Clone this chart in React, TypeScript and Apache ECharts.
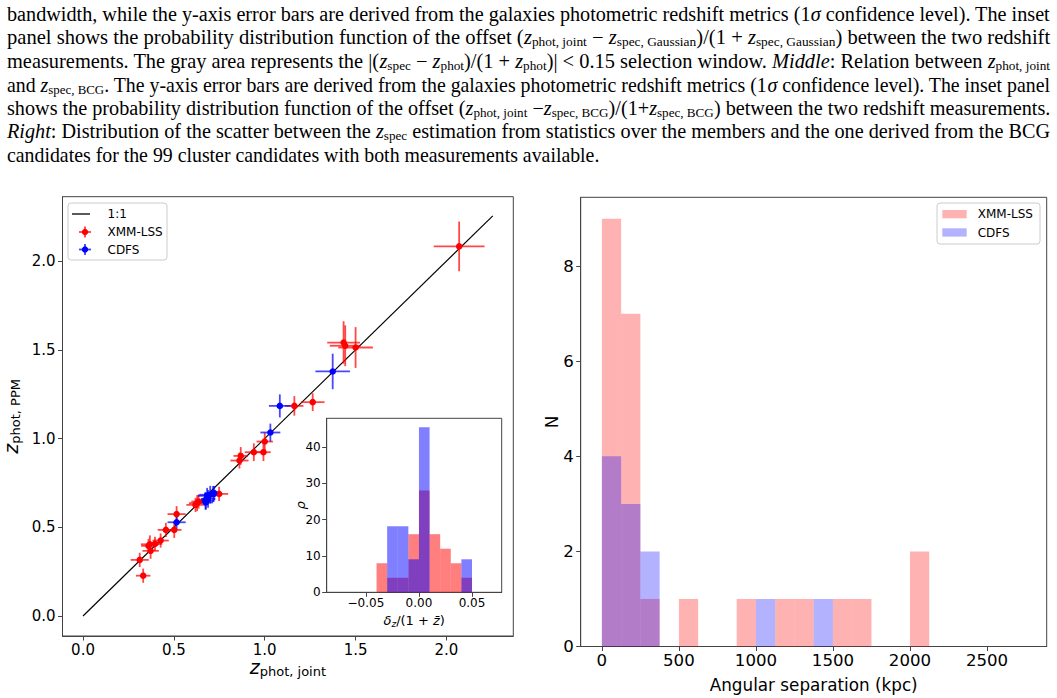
import React, { useEffect, useRef } from 'react';
import * as echarts from 'echarts';

// ---------------- caption text ----------------
const CAPTION_LINES = [
  'bandwidth, while the y-axis error bars are derived from the galaxies photometric redshift metrics (1{i|σ} confidence level). The inset',
  'panel shows the probability distribution function of the offset ({i|z}{s|phot, joint} − {i|z}{s|spec, Gaussian})/(1 + {i|z}{s|spec, Gaussian}) between the two redshift',
  'measurements. The gray area represents the |({i|z}{s|spec} − {i|z}{s|phot})/(1 + {i|z}{s|phot})| < 0.15 selection window. {i|Middle}: Relation between {i|z}{s|phot, joint}',
  'and {i|z}{s|spec, BCG}. The y-axis error bars are derived from the galaxies photometric redshift metrics (1{i|σ} confidence level). The inset panel',
  'shows the probability distribution function of the offset ({i|z}{s|phot, joint} −{i|z}{s|spec, BCG})/(1+{i|z}{s|spec, BCG}) between the two redshift measurements.',
  '{i|Right}: Distribution of the scatter between the {i|z}{s|spec} estimation from statistics over the members and the one derived from the BCG',
  'candidates for the 99 cluster candidates with both measurements available.',
];

// ---------------- left panel: z_phot,joint vs z_phot,PPM ----------------
const xmmX = [0.331, 0.312, 0.368, 0.396, 0.372, 0.360, 0.427, 0.456, 0.502, 0.515, 0.619, 0.628, 0.636, 0.749, 0.861, 0.868, 0.940, 0.993, 1.000, 1.163, 1.264, 1.434, 1.443, 1.500, 2.070];
const xmmY = [0.227, 0.316, 0.404, 0.406, 0.367, 0.395, 0.425, 0.485, 0.485, 0.574, 0.626, 0.636, 0.645, 0.688, 0.876, 0.902, 0.923, 0.923, 0.983, 1.184, 1.205, 1.541, 1.523, 1.513, 2.083];
const xmmXErr = [0.04, 0.05, 0.05, 0.04, 0.045, 0.04, 0.045, 0.045, 0.04, 0.05, 0.05, 0.045, 0.04, 0.05, 0.05, 0.04, 0.05, 0.04, 0.045, 0.05, 0.065, 0.09, 0.085, 0.095, 0.14];
const xmmYErr = [0.04, 0.04, 0.05, 0.04, 0.045, 0.04, 0.04, 0.04, 0.045, 0.045, 0.04, 0.045, 0.04, 0.04, 0.045, 0.05, 0.05, 0.05, 0.05, 0.055, 0.05, 0.12, 0.115, 0.115, 0.14];

const cdfsX = [0.515, 0.674, 0.676, 0.683, 0.688, 0.700, 0.716, 0.722, 1.031, 1.083, 1.374];
const cdfsY = [0.528, 0.649, 0.640, 0.677, 0.660, 0.683, 0.688, 0.692, 1.034, 1.184, 1.378];
const cdfsXErr = [0.05, 0.05, 0.04, 0.05, 0.04, 0.06, 0.05, 0.04, 0.055, 0.06, 0.095];
const cdfsYErr = [0.04, 0.05, 0.04, 0.045, 0.05, 0.05, 0.045, 0.04, 0.05, 0.065, 0.1];

const oneToOne = [0, 2.255];
const scatterTicks = [0, 0.5, 1.0, 1.5, 2.0];

// ---------------- inset: offset PDF ----------------
const insetEdges = [-0.04, -0.03, -0.02, -0.01, 0.0, 0.01, 0.02, 0.03, 0.04, 0.05];
const insetXmm = [8, 4, 4, 16, 28, 16, 12, 8, 4];
const insetCdfs = [0, 18.18, 18.18, 9.09, 45.45, 0, 0, 0, 9.09];
const insetXTicks = [-0.05, 0.0, 0.05];
const insetYTicks = [0, 10, 20, 30, 40];

// ---------------- right panel: angular separation ----------------
const sepEdges = [0, 125, 250, 375, 500, 625, 750, 875, 1000, 1125, 1250, 1375, 1500, 1625, 1750, 1875, 2000, 2125, 2250, 2375, 2500, 2625, 2750];
const sepXmm = [9, 7, 1, 0, 1, 0, 0, 1, 0, 1, 1, 0, 1, 1, 0, 0, 2, 0, 0, 0, 0, 0];
const sepCdfs = [4, 3, 2, 0, 0, 0, 0, 0, 1, 0, 0, 1, 0, 0, 0, 0, 0, 0, 0, 0, 0, 0];
const sepXTicks = [0, 500, 1000, 1500, 2000, 2500];
const sepYTicks = [0, 2, 4, 6, 8];

const SANS = 'DejaVu Sans';
const SERIF = 'Liberation Serif';
const CAP_SIZE = 20;
const CAP_SUB = 13;

function capFont(style: string): string {
  if (style === 'i') return `italic ${CAP_SIZE}px "${SERIF}"`;
  if (style === 's') return `${CAP_SUB}px "${SERIF}"`;
  return `${CAP_SIZE}px "${SERIF}"`;
}

function measureRich(line: string): number {
  const ctx = document.createElement('canvas').getContext('2d') as CanvasRenderingContext2D;
  const re = /\{(\w+)\|([^}]*)\}/g;
  let last = 0;
  let w = 0;
  let m: RegExpExecArray | null;
  const meas = (t: string, st: string) => {
    ctx.font = capFont(st);
    return ctx.measureText(t).width;
  };
  while ((m = re.exec(line))) {
    if (m.index > last) w += meas(line.slice(last, m.index), 'base');
    w += meas(m[2], m[1]);
    last = re.lastIndex;
  }
  if (last < line.length) w += meas(line.slice(last), 'base');
  return w;
}

function histData(edges: number[], counts: number[]) {
  const out: number[][] = [];
  counts.forEach((c, i) => {
    if (c > 0) out.push([edges[i], edges[i + 1], c]);
  });
  return out;
}

function histSeries(xi: number, data: number[][], color: string) {
  return {
    type: 'custom',
    xAxisIndex: xi,
    yAxisIndex: xi,
    data,
    encode: { x: [0, 1], y: 2 },
    silent: true,
    renderItem: (_p: any, api: any) => {
      const a = api.coord([api.value(0), api.value(2)]);
      const b = api.coord([api.value(1), 0]);
      return {
        type: 'rect',
        shape: { x: a[0], y: a[1], width: b[0] - a[0], height: b[1] - a[1] },
        style: { fill: color },
      };
    },
  };
}

function errSeries(xs: number[], ys: number[], ex: number[], ey: number[], color: string) {
  return {
    type: 'custom',
    xAxisIndex: 0,
    yAxisIndex: 0,
    data: xs.map((x, i) => [x, ys[i], ex[i], ey[i]]),
    encode: { x: 0, y: 1 },
    silent: true,
    z: 2,
    renderItem: (_p: any, api: any) => {
      const x = api.value(0);
      const y = api.value(1);
      const dx = api.value(2);
      const dy = api.value(3);
      const a = api.coord([x - dx, y]);
      const b = api.coord([x + dx, y]);
      const c = api.coord([x, y - dy]);
      const d = api.coord([x, y + dy]);
      return {
        type: 'group',
        children: [
          { type: 'line', shape: { x1: a[0], y1: a[1], x2: b[0], y2: b[1] }, style: { stroke: color, lineWidth: 1.8 } },
          { type: 'line', shape: { x1: c[0], y1: c[1], x2: d[0], y2: d[1] }, style: { stroke: color, lineWidth: 1.8 } },
        ],
      };
    },
  };
}

function scatterSeries(xs: number[], ys: number[], color: string) {
  return {
    type: 'scatter',
    xAxisIndex: 0,
    yAxisIndex: 0,
    data: xs.map((x, i) => [x, ys[i]]),
    symbol: 'circle',
    symbolSize: 6.5,
    itemStyle: { color, opacity: 1 },
    silent: true,
    z: 3,
  };
}

function axisCommon(ticks: number[], fontSize: number, fmt: (v: number) => string, margin: number) {
  return {
    type: 'value',
    nameMoveOverlap: false,
    axisLine: { show: true, onZero: false, lineStyle: { color: '#444', width: 1 } },
    axisTick: { show: true, inside: false, length: 4.5, customValues: ticks, lineStyle: { color: '#444', width: 1 } },
    axisLabel: { show: true, customValues: ticks, formatter: fmt, fontSize, fontFamily: SANS, color: '#000', margin },
    splitLine: { show: false },
  };
}

const minusFmt = (v: number) => (v < 0 ? '\u2212' : '') + Math.abs(v).toFixed(2);

export default function App() {
  const ref = useRef<HTMLDivElement>(null);
  useEffect(() => {
    if (!ref.current) return;
    const chart = echarts.init(ref.current, undefined, { renderer: 'svg' });

    const capRich = {
      i: { fontStyle: 'italic', fontSize: CAP_SIZE, fontFamily: SERIF, lineHeight: 22, fill: '#000' },
      s: { fontSize: CAP_SUB, fontFamily: SERIF, lineHeight: 12, verticalAlign: 'bottom', fill: '#000' },
    };
    const capLineY = [14, 37.5, 61, 84.5, 108, 131.5, 155];
    const captionEls = CAPTION_LINES.map((line, i) => {
      const nat = measureRich(line);
      const target = i === CAPTION_LINES.length - 1 ? 593 : 1043;
      return {
        type: 'text',
        x: 7,
        y: capLineY[i],
        scaleX: target / nat,
        silent: true,
        style: {
          text: line,
          rich: capRich,
          fontSize: CAP_SIZE,
          fontFamily: SERIF,
          lineHeight: 22,
          fill: '#000',
          verticalAlign: 'middle',
          align: 'left',
        },
      };
    });

    const legText = (x: number, y: number, t: string) => ({
      type: 'text',
      x,
      y,
      silent: true,
      style: { text: t, fontSize: 12, fontFamily: SANS, fill: '#000', verticalAlign: 'middle', align: 'left' },
    });
    const errMarker = (cx: number, cy: number, bar: string, dot: string) => [
      { type: 'line', silent: true, shape: { x1: cx - 6, y1: cy, x2: cx + 6, y2: cy }, style: { stroke: bar, lineWidth: 1.8 } },
      { type: 'line', silent: true, shape: { x1: cx, y1: cy - 5.5, x2: cx, y2: cy + 5.5 }, style: { stroke: bar, lineWidth: 1.8 } },
      { type: 'circle', silent: true, shape: { cx, cy, r: 3.2 }, style: { fill: dot } },
    ];

    const legendEls = [
      { type: 'rect', silent: true, shape: { x: 68, y: 203, width: 99, height: 57, r: 3 }, style: { fill: 'rgba(255,255,255,0.8)', stroke: '#cccccc', lineWidth: 1 } },
      { type: 'line', silent: true, shape: { x1: 72, y1: 214, x2: 90, y2: 214 }, style: { stroke: '#000', lineWidth: 1.3 } },
      legText(107.5, 214, '1:1'),
      ...errMarker(85, 232, 'rgba(255,0,0,0.75)', '#ff0000'),
      legText(107.5, 232, 'XMM-LSS'),
      ...errMarker(85, 249.5, 'rgba(0,0,255,0.75)', '#0000ff'),
      legText(107.5, 249.5, 'CDFS'),
      { type: 'rect', silent: true, shape: { x: 937, y: 203, width: 103, height: 41, r: 3 }, style: { fill: 'rgba(255,255,255,0.8)', stroke: '#cccccc', lineWidth: 1 } },
      { type: 'rect', silent: true, shape: { x: 942.3, y: 210, width: 24.4, height: 8.3 }, style: { fill: 'rgba(255,0,0,0.3)' } },
      legText(977.7, 214.2, 'XMM-LSS'),
      { type: 'rect', silent: true, shape: { x: 942.3, y: 228.3, width: 24.4, height: 8.3 }, style: { fill: 'rgba(0,0,255,0.3)' } },
      legText(977.7, 232.5, 'CDFS'),
    ];

    const zRich = {
      z: { fontSize: 19, fontStyle: 'italic', fontFamily: SANS, lineHeight: 22, color: '#000' },
      s: { fontSize: 13, fontFamily: SANS, lineHeight: 12, verticalAlign: 'bottom', color: '#000' },
    };
    const insetRich = {
      d: { fontSize: 13, fontStyle: 'italic', fontFamily: SANS, lineHeight: 16, color: '#000' },
      n: { fontSize: 13, fontFamily: SANS, lineHeight: 16, color: '#000' },
      s: { fontSize: 9, fontStyle: 'italic', fontFamily: SANS, lineHeight: 9, verticalAlign: 'bottom', color: '#000' },
    };

    const option: any = {
      animation: false,
      backgroundColor: '#ffffff',
      textStyle: { fontFamily: SANS },
      grid: [
        { left: 61.7, top: 196.7, width: 451.6, height: 439.3, show: true, backgroundColor: '#fff', borderColor: '#444', borderWidth: 1, z: 0 },
        { left: 326.7, top: 418.3, width: 175, height: 174, show: true, backgroundColor: '#fff', borderColor: '#444', borderWidth: 1, z: 0 },
        { left: 580.7, top: 197.3, width: 466, height: 452, show: true, backgroundColor: '#fff', borderColor: '#444', borderWidth: 1, z: 0 },
      ],
      xAxis: [
        {
          ...axisCommon(scatterTicks, 15, (v: number) => v.toFixed(1), 6),
          gridIndex: 0,
          min: -0.113,
          max: 2.368,
          name: '{z|z}{s|phot, joint}',
          nameLocation: 'middle',
          nameGap: 20,
          nameTextStyle: { rich: zRich },
        },
        {
          ...axisCommon(insetXTicks, 12, minusFmt, 5),
          gridIndex: 1,
          min: -0.087,
          max: 0.078,
          name: '{d|δ}{s|z}{n|/(1 + }{d|z\u0304}{n|)}',
          nameLocation: 'middle',
          nameGap: 20,
          nameTextStyle: { rich: insetRich },
        },
        {
          ...axisCommon(sepXTicks, 16.6, (v: number) => String(v), 5),
          gridIndex: 2,
          min: -137.5,
          max: 2887.5,
          name: 'Angular separation (kpc)',
          nameLocation: 'middle',
          nameGap: 29.5,
          nameTextStyle: { fontSize: 16.8, fontFamily: SANS, color: '#000' },
        },
      ],
      yAxis: [
        {
          ...axisCommon(scatterTicks, 15, (v: number) => v.toFixed(1), 7),
          gridIndex: 0,
          min: -0.113,
          max: 2.363,
          name: '{z|z}{s|phot, PPM}',
          nameLocation: 'middle',
          nameRotate: 90,
          nameGap: 41,
          nameTextStyle: { rich: zRich },
        },
        {
          ...axisCommon(insetYTicks, 12, (v: number) => String(v), 6),
          gridIndex: 1,
          min: 0,
          max: 47.9,
          name: 'ρ',
          nameLocation: 'middle',
          nameRotate: 90,
          nameGap: 20,
          nameTextStyle: { fontSize: 13, fontStyle: 'italic', fontFamily: SANS, color: '#000' },
        },
        {
          ...axisCommon(sepYTicks, 16.6, (v: number) => String(v), 7),
          gridIndex: 2,
          min: 0,
          max: 9.45,
          name: 'N',
          nameLocation: 'middle',
          nameRotate: 90,
          nameGap: 20.5,
          nameTextStyle: { fontSize: 16.8, fontFamily: SANS, color: '#000' },
        },
      ],
      series: [
        {
          type: 'line',
          xAxisIndex: 0,
          yAxisIndex: 0,
          data: oneToOne.map((v) => [v, v]),
          showSymbol: false,
          symbol: 'none',
          lineStyle: { color: '#000', width: 1.2 },
          silent: true,
          z: 1,
        },
        errSeries(xmmX, xmmY, xmmXErr, xmmYErr, 'rgba(255,0,0,0.72)'),
        scatterSeries(xmmX, xmmY, '#ff0000'),
        errSeries(cdfsX, cdfsY, cdfsXErr, cdfsYErr, 'rgba(0,0,255,0.72)'),
        scatterSeries(cdfsX, cdfsY, '#0000ff'),
        histSeries(1, histData(insetEdges, insetXmm), 'rgba(255,0,0,0.5)'),
        histSeries(1, histData(insetEdges, insetCdfs), 'rgba(0,0,255,0.5)'),
        histSeries(2, histData(sepEdges, sepXmm), 'rgba(255,0,0,0.3)'),
        histSeries(2, histData(sepEdges, sepCdfs), 'rgba(0,0,255,0.3)'),
      ],
      graphic: { elements: [...captionEls, ...legendEls] },
    };

    chart.setOption(option);
    return () => {
      chart.dispose();
    };
  }, []);

  return (
    <div
      ref={ref}
      style={{ position: 'absolute', left: 0, top: 0, width: 1057, height: 698, background: '#fff' }}
    />
  );
}
